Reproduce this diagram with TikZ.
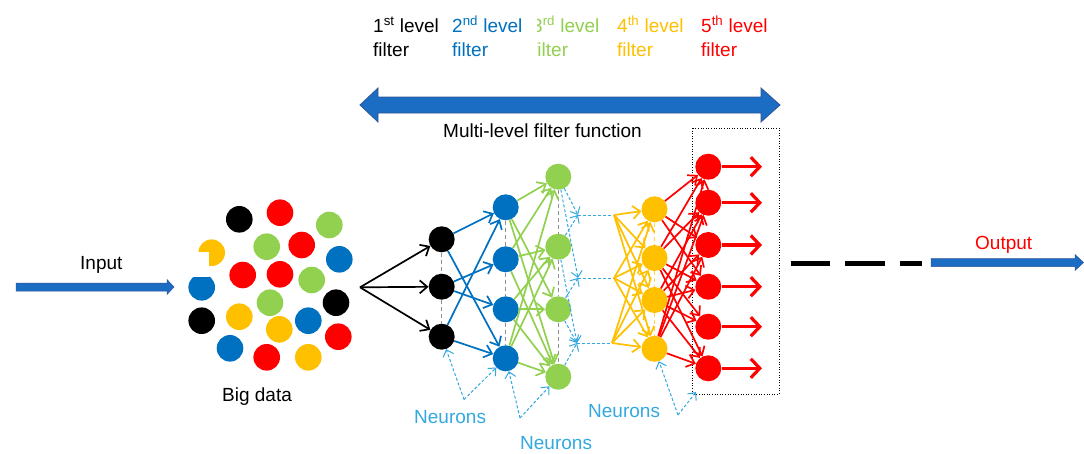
\documentclass[tikz,border=0pt]{standalone}
\usepackage{fontspec}
\setmainfont{Liberation Sans}
\usetikzlibrary{arrows.meta}
\definecolor{cblue}{HTML}{0070C0}
\definecolor{cgreen}{HTML}{92D050}
\definecolor{cyellow}{HTML}{FFC000}
\definecolor{cred}{HTML}{FF0000}
\definecolor{ccyan}{HTML}{33A9E0}
\definecolor{arrowblue}{HTML}{1A6DC2}
\definecolor{arrowedge}{HTML}{2F5597}
\definecolor{vgray}{HTML}{909090}
\begin{document}
\begin{tikzpicture}[x=1pt,y=-1pt,
  dot/.style={circle,inner sep=0pt,minimum size=26pt,fill=#1},
  lbl/.style={anchor=base west,inner sep=0pt,font=\fontsize{19}{22}\selectfont},
  conn/.style={draw=#1,line width=1.7pt,-{Straight Barb[length=7.5pt,width=13pt]}},
  outarr/.style={draw=cred,line width=3.5pt,-{Straight Barb[length=9pt,width=19pt,line width=3.2pt]}},
  cyd/.style={draw=ccyan,line width=1pt,dash pattern=on 3pt off 2pt},
  cya/.style={cyd,-{Straight Barb[length=6pt,width=11pt,line width=1pt]}},
  vdash/.style={draw=#1,line width=1pt,dash pattern=on 4pt off 3pt},
  bigarrow/.style={fill=arrowblue,draw=arrowedge,line width=0.8pt}]
\useasboundingbox (0,0) rectangle (1084,453);
\fill[white] (0,0) rectangle (1084,453);

% ---- top labels
\node[lbl] (t1a) at (373,32) {1\textsuperscript{st} level};
\node[lbl] (t1b) at (373,56) {filter};
\node[lbl,text=cblue] (t2a) at (452,32) {2\textsuperscript{nd} level};
\node[lbl,text=cblue] (t2b) at (452,56) {filter};
\begin{scope}
  \clip (537,0) rectangle (612,70);
  \node[lbl,text=cgreen] (t3a) at (532,32) {3\textsuperscript{rd} level};
  \node[lbl,text=cgreen] (t3b) at (532,56) {filter};
\end{scope}
\node[lbl,text=cyellow] (t4a) at (617,32) {4\textsuperscript{th} level};
\node[lbl,text=cyellow] (t4b) at (617,56) {filter};
\node[lbl,text=cred] (t5a) at (701,32) {5\textsuperscript{th} level};
\node[lbl,text=cred] (t5b) at (701,56) {filter};

% ---- double arrow
\draw[bigarrow] (360,105) -- (378,88) -- (378,97) -- (761,97) -- (761,88) -- (780,105)
  -- (761,122) -- (761,113) -- (378,113) -- (378,122) -- cycle;
\node[lbl] (mlf) at (443,137) {Multi-level filter function};

% ---- dotted box
\draw[dotted,line width=0.6pt,fill=white] (692,128) rectangle (779,394);

% ---- input
\draw[bigarrow,line width=0.5pt] (16,283) -- (167,283) -- (167,279.5) -- (174,287) -- (167,294.5) -- (167,291) -- (16,291) -- cycle;

% ---- big data
\fill (239.3,219.3) circle (13.3);
\fill[cred] (280,212.7) circle (13.3);
\fill[cgreen] (329.3,225) circle (13.3);
\fill[cyellow] (211.7,252.7) circle (13.3);
\fill[cgreen] (266.7,246.7) circle (13.3);
\fill[cred] (301.7,245) circle (13.3);
\fill[cblue] (339.3,259.3) circle (13.3);
\fill[cred] (242.7,275) circle (13.3);
\fill[cred] (280,274.3) circle (13.3);
\fill[cgreen] (311.7,280) circle (13.3);
\fill[cblue] (201.7,287.3) circle (13.3);
\fill[cgreen] (270,302.7) circle (13.3);
\fill (336,302.7) circle (13.3);
\fill (201.7,320.7) circle (13.3);
\fill[cyellow] (239.3,316.7) circle (13.3);
\fill[cyellow] (279.3,329.3) circle (13.3);
\fill[cblue] (308.3,320.7) circle (13.3);
\fill[cred] (338.3,336.7) circle (13.3);
\fill[cblue] (230,348.3) circle (13.3);
\fill[cred] (266.7,357.3) circle (13.3);
\fill[cyellow] (308.3,357.3) circle (13.3);
\fill[white] (60,252) rectangle (209,277);
\node[lbl] (inp) at (80,269) {Input};
\node[lbl] (bd) at (222,401) {Big data};

% ---- network nodes
\node[dot=black] (k1) at (441.7,239.3) {};
\node[dot=black] (k2) at (441.7,286.7) {};
\node[dot=black] (k3) at (441.7,336.7) {};
\node[dot=cblue] (u1) at (505.7,207.3) {};
\node[dot=cblue] (u2) at (505.7,259.3) {};
\node[dot=cblue] (u3) at (505.7,309.3) {};
\node[dot=cblue] (u4) at (505.7,358.3) {};
\node[dot=cgreen] (g1) at (558.3,176.7) {};
\node[dot=cgreen] (g2) at (558.3,246.7) {};
\node[dot=cgreen] (g3) at (558.3,309.3) {};
\node[dot=cgreen] (g4) at (558.3,376.7) {};
\node[dot=cyellow] (y1) at (654.5,209.3) {};
\node[dot=cyellow] (y2) at (654.5,258) {};
\node[dot=cyellow] (y3) at (654.5,300) {};
\node[dot=cyellow] (y4) at (654.5,348.8) {};
\node[dot=cred] (r1) at (708.3,166.7) {};
\node[dot=cred] (r2) at (708.3,202.7) {};
\node[dot=cred] (r3) at (708.3,245) {};
\node[dot=cred] (r4) at (708.3,286.7) {};
\node[dot=cred] (r5) at (708.3,326.7) {};
\node[dot=cred] (r6) at (708.3,368.3) {};

% vertical dashed lines in columns
\draw[vdash=vgray] (k1) -- (k2) (k2) -- (k3);
\draw[vdash=vgray] (u1) -- (u2) (u2) -- (u3) (u3) -- (u4);
\draw[vdash=vgray] (g1) -- (g2) (g2) -- (g3) (g3) -- (g4);
\draw[vdash=cyellow!70] (y1) -- (y2) (y2) -- (y3) (y3) -- (y4);

% input fan
\coordinate (src) at (360,287.3);
\foreach \t in {k1,k2,k3} \draw[conn=black] (src) -- (\t);

% black -> blue
\foreach \a/\b in {k1/u1,k1/u4,k2/u2,k2/u3,k3/u1,k3/u4}
  \draw[conn=cblue] (\a) -- (\b);

% blue -> green
\foreach \a/\b in {u1/g1,u1/g3,u1/g4,u2/g2,u2/g1,u2/g4,u3/g3,u3/g2,u3/g4,u4/g4,u4/g2,u4/g1}
  \draw[conn=cgreen] (\a) -- (\b);

% green -> junctions (cyan dashed)
\coordinate (j1) at (578,215);
\coordinate (j2) at (578,278);
\coordinate (j3) at (577,343);
\coordinate (f1) at (614,215);
\coordinate (f2) at (614,278);
\coordinate (f3) at (612,343);
\foreach \a/\b in {g1/j1,g1/j2,g2/j1,g2/j3,g3/j2,g3/j3,g4/j3}
  \draw[cya] (\a) -- (\b);
\draw[cyd] (j1) -- (f1) (j2) -- (f2) (j3) -- (f3);

% junctions -> yellow
\foreach \a in {f1,f2,f3}
  \foreach \b in {y1,y2,y3,y4}
    \draw[conn=cyellow] (\a) -- (\b);

% yellow -> red
\foreach \a/\b in {y1/r1,y1/r3,y1/r4,y2/r1,y2/r2,y2/r4,y2/r5,y2/r6,y3/r2,y3/r3,y3/r4,y3/r5,y3/r6,y4/r1,y4/r2,y4/r3,y4/r6}
  \draw[conn=cred] (\a) -- (\b);

% red outputs
\foreach \i/\yy in {1/166.7,2/202.7,3/245,4/286.7,5/326.7,6/368.3}{
  \coordinate (o\i) at (762,\yy);
  \draw[outarr] (r\i) -- (o\i);
}

% neurons pointers
\coordinate (v1) at (464,399.5);
\coordinate (v2) at (520,418);
\coordinate (v3) at (678,415);
\coordinate (bx) at (696,392);
\draw[cya] (v1) -- (k3);
\draw[cya] (v1) -- (u4);
\draw[cya] (v2) -- (u4);
\draw[cya] (v2) -- (g4);
\draw[cya] (v3) -- (y4);
\draw[cya] (v3) -- (bx);
\node[lbl,text=ccyan] (n1) at (414,423) {Neurons};
\node[lbl,text=ccyan] (n2) at (520,449) {Neurons};
\node[lbl,text=ccyan] (n3) at (588,417) {Neurons};

% output
\coordinate (ds) at (790.5,263);
\coordinate (de) at (922,263);
\draw[line width=5pt,dash pattern=on 39.5pt off 14.5pt on 40pt off 15pt on 22pt] (ds) -- (de);
\draw[bigarrow,line width=0.5pt] (931,258.5) -- (1075,258.5) -- (1075,254.5) -- (1083.5,262.5) -- (1075,270.5) -- (1075,266.5) -- (931,266.5) -- cycle;
\node[lbl,text=cred] (outp) at (975,249) {Output};
\end{tikzpicture}
\end{document}
